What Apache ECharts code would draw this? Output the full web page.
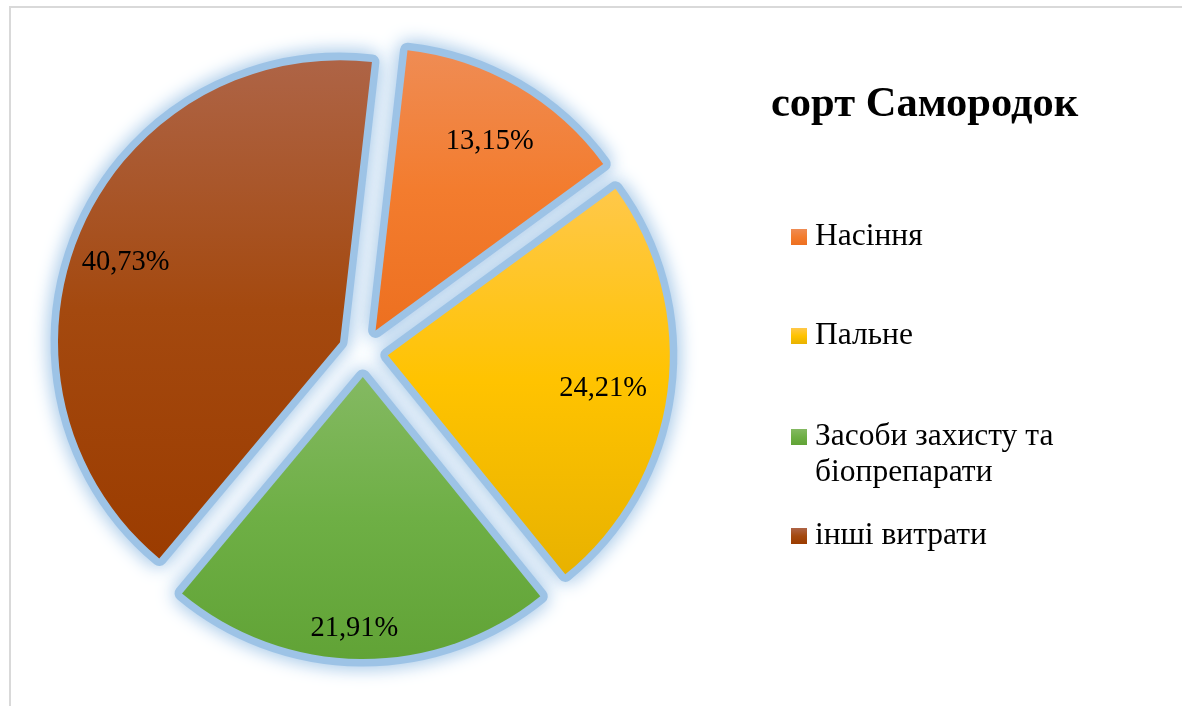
<!DOCTYPE html>
<html>
<head>
<meta charset="utf-8">
<title>сорт Самородок</title>
<script src="https://cdn.jsdelivr.net/npm/echarts@6/dist/echarts.min.js"></script>
<style>
  html, body { margin: 0; padding: 0; background: #ffffff; }
  #chart { width: 1182px; height: 706px; }
</style>
</head>
<body>
<div id="chart"></div>
<script>
// Cost structure, percent of total
const titleText = 'сорт Самородок';
const categories = ['Насіння', 'Пальне', 'Засоби захисту та біопрепарати', 'інші витрати'];
const shares = [13.15, 24.21, 21.91, 40.73];

// Vertical gradient per slice: top, middle, bottom
const sliceGradients = [
  ['#EF8C54', '#F37C2E', '#ED7020'],
  ['#FFC84A', '#FFC300', '#E8B200'],
  ['#84B962', '#6EAF45', '#61A336'],
  ['#AE6446', '#A4490F', '#9B3C00']
];
// Value label placement inside each slice: distance as a fraction of the radius,
// and a small turn (degrees) away from the slice bisector
const labelRadiusFraction = [0.772, 0.762, 0.88, 0.80];
const labelAngleNudge = [1.0, 1.3, 1.5, -2.9];

const FONT = '"Liberation Serif", "Times New Roman", serif';
const R = 282;                 // pie radius, px
const CENTER = [363, 352];
const EXPLODE = 25;            // slice pull-out distance, px
const FIRST_SLICE_DEG = 6.5;   // first slice edge, clockwise from 12 o'clock
const GLOW = '#9DC3E6';

const total = shares.reduce((a, b) => a + b, 0);
let acc = 0;
const midAngles = shares.map(v => {
  const m = FIRST_SLICE_DEG + (acc + v / 2) / total * 360;
  acc += v;
  return m;
});

function gradient(stops) {
  return new echarts.graphic.LinearGradient(0, 0, 0, 1, [
    { offset: 0, color: stops[0] },
    { offset: 0.5, color: stops[1] },
    { offset: 1, color: stops[2] }
  ]);
}

const mainData = categories.map((name, i) => ({
  name,
  value: shares[i],
  selected: true,
  itemStyle: { color: gradient(sliceGradients[i]) }
}));
const glowData = categories.map((name, i) => ({ name, value: shares[i], selected: true }));

// ECharts puts inside labels at half radius on the bisector; move each to its own spot
function labelShift(params) {
  const i = params.dataIndex;
  const mid = midAngles[i] * Math.PI / 180;
  const ang = (midAngles[i] + labelAngleNudge[i]) * Math.PI / 180;
  const f = labelRadiusFraction[i] * R;
  const h = 0.5 * R;
  return {
    dx: f * Math.sin(ang) - h * Math.sin(mid),
    dy: -f * Math.cos(ang) + h * Math.cos(mid)
  };
}

const pieCommon = {
  type: 'pie',
  center: CENTER,
  radius: R,
  startAngle: 90 - FIRST_SLICE_DEG,
  clockwise: true,
  selectedMode: 'multiple',
  selectedOffset: EXPLODE,
  avoidLabelOverlap: false,
  animation: false,
  emphasis: { scale: false, disabled: true }
};

// one legend block per entry; the wrapped entry gets a leading blank line so that
// its marker lines up with the first line of text
const LINE = 36;
const wrapName = n => n.indexOf(' та ') >= 0 ? '\n' + n.replace(' та ', ' та\n') : n;
const legendBase = {
  orient: 'vertical',
  left: 791,
  padding: 0,
  itemWidth: 16,
  itemHeight: 16,
  icon: 'rect',
  selectedMode: false,
  formatter: wrapName,
  textStyle: { fontFamily: FONT, fontSize: 31.5, color: '#000', lineHeight: LINE, padding: [0, 0, 0, 3] }
};
const legendCenters = [237, 336, 437, 536];

const legends = categories.map((name, i) => {
  const lines = wrapName(name).split('\n').length;
  return Object.assign({}, legendBase, {
    top: legendCenters[i] - lines * LINE / 2,
    data: [name]
  });
});

const chart = echarts.init(document.getElementById('chart'), null, { renderer: 'canvas' });
chart.setOption({
  backgroundColor: '#ffffff',
  title: {
    text: titleText,
    left: 771,
    top: 84,
    padding: 0,
    textStyle: { fontFamily: FONT, fontSize: 42.5, fontWeight: 'bold', color: '#000' }
  },
  legend: legends,
  graphic: [{
    type: 'rect',
    silent: true,
    shape: { x: 10, y: 7, width: 1400, height: 900 },
    style: { fill: 'none', stroke: '#D9D9D9', lineWidth: 2 }
  }],
  series: [
    Object.assign({}, pieCommon, {
      name: 'slices',
      z: 3,
      label: {
        show: true,
        position: 'inside',
        formatter: p => p.value.toFixed(2).replace('.', ',') + '%',
        fontFamily: FONT,
        fontSize: 28.5,
        color: '#000'
      },
      labelLine: { show: false },
      labelLayout: labelShift,
      data: mainData
    }),
    // soft blue glow drawn under every slice
    Object.assign({}, pieCommon, {
      name: 'glow',
      z: 1,
      silent: true,
      label: { show: false },
      labelLine: { show: false },
      itemStyle: {
        color: GLOW,
        borderColor: GLOW,
        borderWidth: 15,
        borderJoin: 'round',
        shadowBlur: 20,
        shadowColor: GLOW
      },
      data: glowData
    })
  ]
});
</script>
</body>
</html>
